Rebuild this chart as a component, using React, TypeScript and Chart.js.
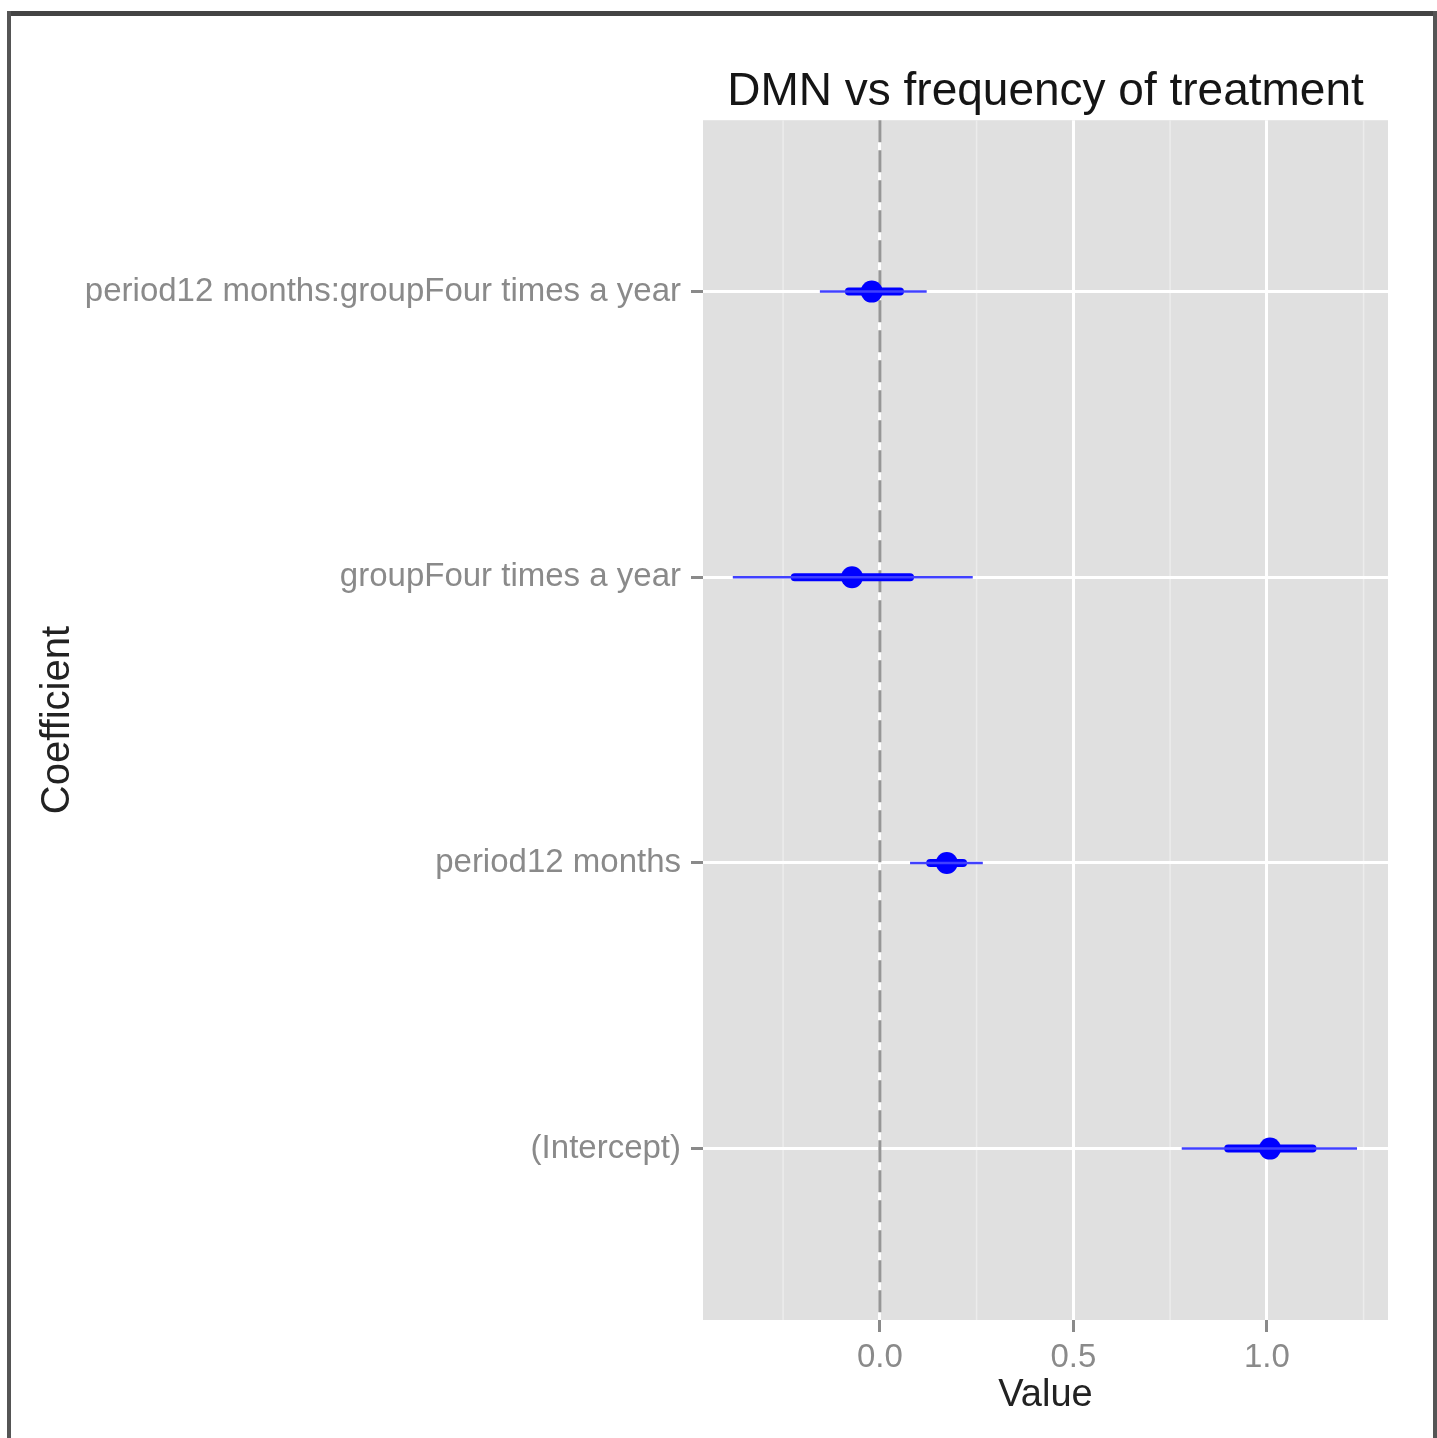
import React, { useEffect, useRef } from "react";
import { Chart, registerables } from "chart.js";

Chart.register(...registerables);

const title = "DMN vs frequency of treatment";
const xTitle = "Value";
const yTitle = "Coefficient";

const categories = [
  "(Intercept)",
  "period12 months",
  "groupFour times a year",
  "period12 months:groupFour times a year",
];
const positions = [1, 2, 3, 4];
const estimates = [1.008, 0.173, -0.072, -0.021];
const innerLow = [0.9, 0.13, -0.22, -0.08];
const innerHigh = [1.118, 0.215, 0.078, 0.052];
const outerLow = [0.78, 0.078, -0.38, -0.155];
const outerHigh = [1.233, 0.266, 0.24, 0.121];

const xTicks = [0, 0.5, 1.0];
const xMinorTicks = [-0.25, 0.25, 0.75, 1.25];
const xMin = -0.457;
const xMax = 1.313;
const yMin = 0.4;
const yMax = 4.6;

const FONT = "'Liberation Sans', Arial, Helvetica, sans-serif";

export default function App() {
  const ref = useRef<HTMLCanvasElement>(null);

  useEffect(() => {
    if (!ref.current) return;
    const datasets: any[] = [];
    categories.forEach((_, i) => {
      datasets.push({
        type: "scatter",
        showLine: true,
        data: [
          { x: outerLow[i], y: positions[i] },
          { x: outerHigh[i], y: positions[i] },
        ],
        borderColor: "#4040ff",
        borderWidth: 2.5,
        pointRadius: 0,
        pointHoverRadius: 0,
      });
      datasets.push({
        type: "scatter",
        showLine: true,
        data: [
          { x: innerLow[i], y: positions[i] },
          { x: innerHigh[i], y: positions[i] },
        ],
        borderColor: "#0000ff",
        borderWidth: 8,
        borderCapStyle: "round",
        pointRadius: 0,
        pointHoverRadius: 0,
      });
    });
    datasets.push({
      type: "scatter",
      data: estimates.map((e, i) => ({ x: e, y: positions[i] })),
      backgroundColor: "#0000ff",
      borderColor: "#0000ff",
      borderWidth: 0,
      pointRadius: 11,
    });

    const panelPlugin = {
      id: "panel",
      beforeDraw(chart: any) {
        const { ctx, chartArea } = chart;
        const xs = chart.scales.x;
        ctx.save();
        ctx.fillStyle = "#e0e0e0";
        ctx.fillRect(
          chartArea.left,
          chartArea.top,
          chartArea.right - chartArea.left,
          chartArea.bottom - chartArea.top
        );
        ctx.strokeStyle = "#ececec";
        ctx.lineWidth = 1.5;
        xMinorTicks.forEach((v) => {
          const px = xs.getPixelForValue(v);
          ctx.beginPath();
          ctx.moveTo(px, chartArea.top);
          ctx.lineTo(px, chartArea.bottom);
          ctx.stroke();
        });
        ctx.restore();
      },
      beforeDatasetsDraw(chart: any) {
        const { ctx, chartArea } = chart;
        const px = chart.scales.x.getPixelForValue(0);
        ctx.save();
        ctx.strokeStyle = "#969696";
        ctx.lineWidth = 3;
        ctx.setLineDash([22, 8]);
        ctx.beginPath();
        ctx.moveTo(px, chartArea.top);
        ctx.lineTo(px, chartArea.bottom);
        ctx.stroke();
        ctx.restore();
      },
    };

    const chart = new Chart(ref.current, {
      type: "scatter",
      data: { datasets },
      plugins: [panelPlugin],
      options: {
        animation: false,
        responsive: true,
        maintainAspectRatio: false,
        layout: { padding: { top: 50, right: 49, bottom: 0, left: 0 } },
        plugins: {
          legend: { display: false },
          tooltip: { enabled: false },
          title: {
            display: true,
            text: title,
            fullSize: false,
            color: "#151515",
            font: { family: FONT, size: 46, weight: "normal" },
            padding: { top: 15, bottom: 0 },
          },
        },
        scales: {
          x: {
            type: "linear",
            min: xMin,
            max: xMax,
            afterBuildTicks(scale: any) {
              scale.ticks = xTicks.map((v) => ({ value: v }));
            },
            afterFit(scale: any) {
              scale.height = 118;
            },
            ticks: {
              color: "#8a8a8a",
              font: { family: FONT, size: 33 },
              padding: 6,
              maxRotation: 0,
              callback: (v: any) => Number(v).toFixed(1),
            },
            grid: {
              color: "#ffffff",
              lineWidth: 3,
              tickColor: "#8a8a8a",
              tickLength: 12,
              tickWidth: 3,
            },
            border: { display: false },
            title: {
              display: true,
              text: xTitle,
              color: "#222222",
              font: { family: FONT, size: 38 },
              padding: { top: 0, bottom: 20 },
            },
          },
          y: {
            type: "linear",
            min: yMin,
            max: yMax,
            afterBuildTicks(scale: any) {
              scale.ticks = positions.map((v) => ({ value: v }));
            },
            afterFit(scale: any) {
              scale.width = 703;
            },
            ticks: {
              color: "#8a8a8a",
              font: { family: FONT, size: 33 },
              padding: 10,
              callback: (v: any) => {
                const idx = positions.indexOf(Number(v));
                return idx >= 0 ? categories[idx] : "";
              },
            },
            grid: {
              color: "#ffffff",
              lineWidth: 3,
              tickColor: "#8a8a8a",
              tickLength: 12,
              tickWidth: 3,
            },
            border: { display: false },
            title: {
              display: true,
              text: yTitle,
              color: "#222222",
              font: { family: FONT, size: 40 },
              padding: { top: 34, bottom: 0 },
            },
          },
        },
      },
    });
    return () => chart.destroy();
  }, []);

  return (
    <div
      style={{
        position: "absolute",
        left: 0,
        top: 0,
        width: 1437,
        height: 1438,
        background: "#ffffff",
        overflow: "hidden",
      }}
    >
      <canvas ref={ref} />
      <div style={{ position: "absolute", left: 7, top: 11, width: 1430, height: 5, background: "#444" }} />
      <div style={{ position: "absolute", left: 7, top: 11, width: 4, height: 1427, background: "#555" }} />
      <div style={{ position: "absolute", left: 1433, top: 11, width: 4, height: 1427, background: "#555" }} />
    </div>
  );
}
